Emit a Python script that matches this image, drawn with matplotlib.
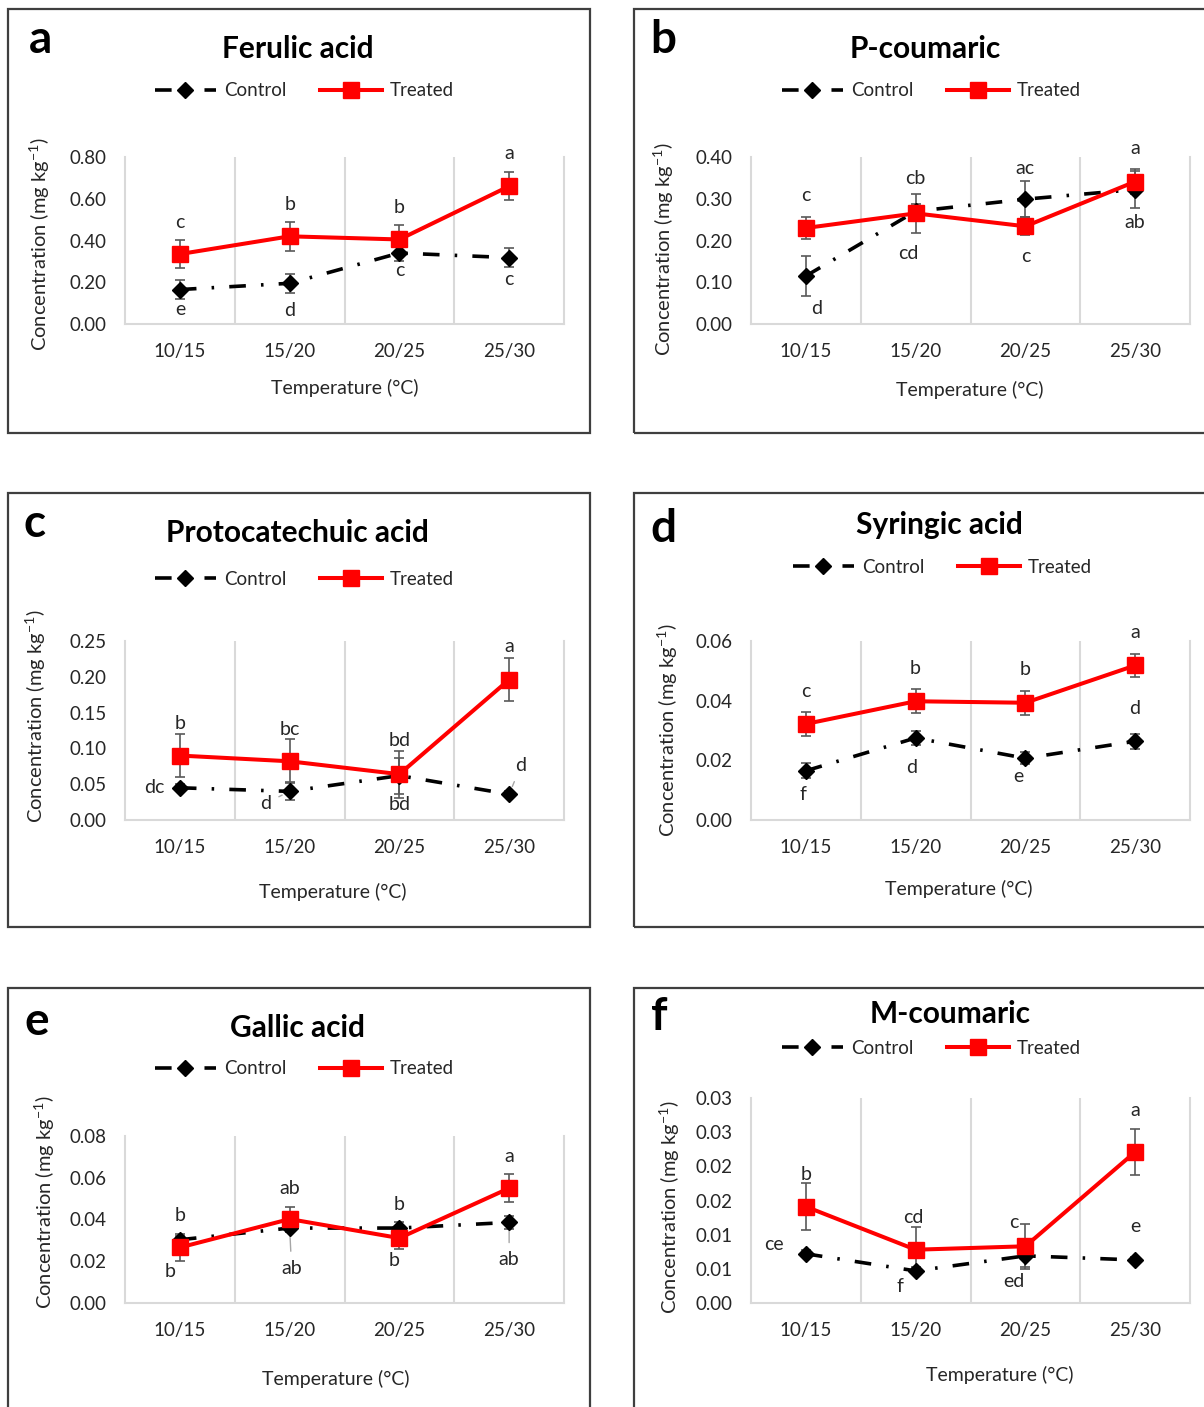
import numpy as np
import matplotlib
matplotlib.use('Agg')
import matplotlib.pyplot as plt
from matplotlib.patches import Rectangle

plt.rcParams['font.family'] = ['Lato', 'DejaVu Sans']
plt.rcParams['mathtext.default'] = 'regular'

# ---- data ----
categories = ['10/15', '15/20', '20/25', '25/30']

ferulic_control = [0.165, 0.195, 0.34, 0.318]
ferulic_control_err = [0.045, 0.045, 0.04, 0.045]
ferulic_treated = [0.335, 0.42, 0.405, 0.66]
ferulic_treated_err = [0.067, 0.07, 0.07, 0.067]
ferulic_control_letters = ['e', 'd', 'c', 'c']
ferulic_treated_letters = ['c', 'b', 'b', 'a']
ferulic_yticks = [0.0, 0.2, 0.4, 0.6, 0.8]
ferulic_ylabels = ['0.00', '0.20', '0.40', '0.60', '0.80']

pcoum_control = [0.115, 0.27, 0.299, 0.322]
pcoum_control_err = [0.047, 0.018, 0.043, 0.045]
pcoum_treated = [0.23, 0.265, 0.234, 0.341]
pcoum_treated_err = [0.026, 0.047, 0.022, 0.03]
pcoum_control_letters = ['d', 'cd', 'ac', 'ab']
pcoum_treated_letters = ['c', 'cb', 'c', 'a']
pcoum_yticks = [0.0, 0.1, 0.2, 0.3, 0.4]
pcoum_ylabels = ['0.00', '0.10', '0.20', '0.30', '0.40']

proto_control = [0.045, 0.04, 0.062, 0.036]
proto_control_err = [0.005, 0.0125, 0.025, 0.004]
proto_treated = [0.09, 0.082, 0.064, 0.196]
proto_treated_err = [0.03, 0.031, 0.033, 0.03]
proto_control_letters = ['dc', 'd', 'bd', 'd']
proto_treated_letters = ['b', 'bc', 'bd', 'a']
proto_yticks = [0.0, 0.05, 0.10, 0.15, 0.20, 0.25]
proto_ylabels = ['0.00', '0.05', '0.10', '0.15', '0.20', '0.25']

syring_control = [0.0165, 0.0275, 0.0207, 0.0264]
syring_control_err = [0.0025, 0.0025, 0.002, 0.0025]
syring_treated = [0.0322, 0.0398, 0.0393, 0.0518]
syring_treated_err = [0.004, 0.004, 0.004, 0.004]
syring_control_letters = ['f', 'd', 'e', 'd']
syring_treated_letters = ['c', 'b', 'b', 'a']
syring_yticks = [0.0, 0.02, 0.04, 0.06]
syring_ylabels = ['0.00', '0.02', '0.04', '0.06']

gallic_control = [0.0303, 0.0359, 0.0359, 0.0386]
gallic_control_err = [0.002, 0.002, 0.003, 0.003]
gallic_treated = [0.0266, 0.0402, 0.0311, 0.055]
gallic_treated_err = [0.0064, 0.006, 0.0053, 0.0067]
gallic_control_letters = ['b', 'ab', 'b', 'ab']
gallic_treated_letters = ['b', 'ab', 'b', 'a']
gallic_yticks = [0.0, 0.02, 0.04, 0.06, 0.08]
gallic_ylabels = ['0.00', '0.02', '0.04', '0.06', '0.08']

mcoum_control = [0.0072, 0.0047, 0.0069, 0.0063]
mcoum_control_err = [0.0005, 0.0005, 0.0017, 0.0005]
mcoum_treated = [0.0141, 0.0078, 0.0083, 0.0221]
mcoum_treated_err = [0.0034, 0.0033, 0.0033, 0.0033]
mcoum_control_letters = ['ce', 'f', 'ed', 'e']
mcoum_treated_letters = ['b', 'cd', 'c', 'a']
mcoum_yticks = [0.0, 0.005, 0.01, 0.015, 0.02, 0.025, 0.03]
mcoum_ylabels = ['0.00', '0.01', '0.01', '0.02', '0.02', '0.03', '0.03']

panels = [
    dict(key='a', title='Ferulic acid', c=ferulic_control, ce=ferulic_control_err,
         t=ferulic_treated, te=ferulic_treated_err, cl=ferulic_control_letters,
         tl=ferulic_treated_letters, yt=ferulic_yticks, yl=ferulic_ylabels),
    dict(key='b', title='P-coumaric', c=pcoum_control, ce=pcoum_control_err,
         t=pcoum_treated, te=pcoum_treated_err, cl=pcoum_control_letters,
         tl=pcoum_treated_letters, yt=pcoum_yticks, yl=pcoum_ylabels),
    dict(key='c', title='Protocatechuic acid', c=proto_control, ce=proto_control_err,
         t=proto_treated, te=proto_treated_err, cl=proto_control_letters,
         tl=proto_treated_letters, yt=proto_yticks, yl=proto_ylabels),
    dict(key='d', title='Syringic acid', c=syring_control, ce=syring_control_err,
         t=syring_treated, te=syring_treated_err, cl=syring_control_letters,
         tl=syring_treated_letters, yt=syring_yticks, yl=syring_ylabels),
    dict(key='e', title='Gallic acid', c=gallic_control, ce=gallic_control_err,
         t=gallic_treated, te=gallic_treated_err, cl=gallic_control_letters,
         tl=gallic_treated_letters, yt=gallic_yticks, yl=gallic_ylabels),
    dict(key='f', title='M-coumaric', c=mcoum_control, ce=mcoum_control_err,
         t=mcoum_treated, te=mcoum_treated_err, cl=mcoum_control_letters,
         tl=mcoum_treated_letters, yt=mcoum_yticks, yl=mcoum_ylabels),
]

# ---- layout (pixel positions in the 1204x1407 canvas) ----
layout = {
    'a': dict(box=(8, 9, 590, 433), axes=(125, 157, 564, 324), title=(298, 58), letter=(40, 53),
              legend=(304, 91), xlabel=(345, 388), ylabel=(40, 244)),
    'b': dict(box=(634, 9, 1216, 433), axes=(751, 157, 1190, 324), title=(925, 58), letter=(663, 53),
              legend=(931, 91), xlabel=(970, 390), ylabel=(664, 249)),
    'c': dict(box=(8, 493, 590, 927), axes=(125, 641, 564, 820), title=(297, 542), letter=(35, 537),
              legend=(304, 579), xlabel=(333, 892), ylabel=(36, 716)),
    'd': dict(box=(634, 493, 1216, 927), axes=(751, 641, 1190, 820), title=(939, 534), letter=(663, 542),
              legend=(942, 567), xlabel=(959, 889), ylabel=(668, 730)),
    'e': dict(box=(8, 988, 590, 1420), axes=(125, 1136, 564, 1303), title=(297, 1037), letter=(37, 1035),
              legend=(304, 1069), xlabel=(336, 1379), ylabel=(45, 1202)),
    'f': dict(box=(634, 988, 1216, 1420), axes=(751, 1098, 1190, 1303), title=(950, 1023), letter=(659, 1030),
              legend=(931, 1048), xlabel=(1000, 1375), ylabel=(670, 1207)),
}

# letter label offsets in pixels (dx, dy up) relative to each point
treated_offsets = {
    'a': [(0, 32), (0, 32), (0, 32), (0, 33)],
    'b': [(0, 32), (0, 35), (0, -30), (0, 33)],
    'c': [(0, 32), (0, 32), (0, 34), (0, 33)],
    'd': [(0, 32), (0, 33), (0, 33), (0, 33)],
    'e': [(0, 32), (0, 31), (0, 34), (0, 32)],
    'f': [(0, 32), (-2, 32), (-12, 24), (0, 41)],
}
control_offsets = {
    'a': [(0, -20), (0, -27), (0, -17), (0, -22)],
    'b': [(11, -33), (-7, -42), (0, 31), (0, -33)],
    'c': [(-26, 0), (-24, -12), (0, -29), (12, 29)],
    'd': [(-3, -24), (-4, -30), (-7, -18), (0, 33)],
    'e': [(-10, -32), (2, -40), (-5, -32), (0, -37)],
    'f': [(-32, 9), (-16, -16), (-11, -26), (0, 33)],
}
control_leaders = {
    'c': [False, True, False, True],
    'e': [False, True, False, True],
}

W, H = 1204, 1407
fig = plt.figure(figsize=(W / 100, H / 100), dpi=100)


def fx(x):
    return x / W


def fy(y):
    return 1 - y / H


grid_col = '#D9D9D9'
text_col = '#262626'
x = np.arange(len(categories))

for p in panels:
    lay = layout[p['key']]

    # panel frame
    x0, y0, x1, y1 = lay['box']
    fig.add_artist(Rectangle((fx(x0), fy(y1)), (x1 - x0) / W, (y1 - y0) / H,
                             transform=fig.transFigure, fill=False,
                             edgecolor='#3F3F3F', linewidth=1.6))

    l, t, r, b = lay['axes']
    ax = fig.add_axes([fx(l), fy(b), (r - l) / W, (b - t) / H])
    ax.set_xlim(-0.5, len(categories) - 0.5)
    ax.set_ylim(p['yt'][0], p['yt'][-1])

    ax.errorbar(x, p['c'], yerr=p['ce'], fmt='none', ecolor='#595959',
                elinewidth=1.2, capsize=3.3, capthick=1.2, zorder=3)
    ax.errorbar(x, p['t'], yerr=p['te'], fmt='none', ecolor='#595959',
                elinewidth=1.2, capsize=3.3, capthick=1.2, zorder=3)
    ctrl, = ax.plot(x, p['c'], color='black', linewidth=2.6,
                    linestyle=(0, (4.6, 4.2, 0.7, 4.2)), marker='D',
                    markersize=8, zorder=4, label='Control')
    trt, = ax.plot(x, p['t'], color='#FF0000', linewidth=2.9, marker='s',
                   markersize=11, zorder=5, label='Treated')

    for i, lab in enumerate(p['tl']):
        dx, dy = treated_offsets[p['key']][i]
        ax.annotate(lab, (x[i], p['t'][i]), xytext=(dx, dy), textcoords='offset pixels',
                    ha='center', va='center', fontsize=14, color=text_col,
                    annotation_clip=False)
    leaders = control_leaders.get(p['key'], [False] * len(categories))
    for i, lab in enumerate(p['cl']):
        dx, dy = control_offsets[p['key']][i]
        arrow = None
        if leaders[i]:
            arrow = dict(arrowstyle='-', color='#A6A6A6', lw=1.0, shrinkA=4, shrinkB=6)
        ax.annotate(lab, (x[i], p['c'][i]), xytext=(dx, dy), textcoords='offset pixels',
                    ha='center', va='center', fontsize=14, color=text_col,
                    arrowprops=arrow, annotation_clip=False)

    ax.set_xticks(x)
    ax.set_xticklabels(categories)
    ax.set_xticks(x[:-1] + 0.5, minor=True)
    ax.set_yticks(p['yt'])
    ax.set_yticklabels(p['yl'])
    ax.grid(which='minor', axis='x', color=grid_col, linewidth=1.5)
    ax.tick_params(axis='both', which='both', length=0, labelsize=13.5, labelcolor=text_col)
    ax.tick_params(axis='x', pad=13.5)
    ax.tick_params(axis='y', pad=13)
    ax.spines['top'].set_visible(False)
    for s in ['left', 'right', 'bottom']:
        ax.spines[s].set_color(grid_col)
        ax.spines[s].set_linewidth(1.5)

    # texts around the plot
    tx, ty = lay['title']
    fig.text(fx(tx), fy(ty), p['title'], ha='center', va='baseline',
             fontsize=21.5, fontweight='bold', color='black')
    lx, ly = lay['letter']
    fig.text(fx(lx), fy(ly), p['key'], ha='center', va='baseline',
             fontsize=33, fontweight='bold', color='black')
    xx, xy = lay['xlabel']
    fig.text(fx(xx), fy(xy), 'Temperature (°C)', ha='center', va='center',
             fontsize=14, color=text_col)
    yx, yy = lay['ylabel']
    fig.text(fx(yx), fy(yy), r'Concentration (mg kg$^{-1}$)', ha='center', va='center',
             rotation=90, fontsize=14.5, color=text_col)
    gx, gy = lay['legend']
    fig.legend([ctrl, trt], ['Control', 'Treated'], loc='center',
               bbox_to_anchor=(fx(gx), fy(gy)), ncol=2, frameon=False,
               handlelength=3.3, handletextpad=0.4, columnspacing=1.8,
               fontsize=13.5, labelcolor=text_col, borderaxespad=0)

fig.savefig('out.png', dpi=100)
